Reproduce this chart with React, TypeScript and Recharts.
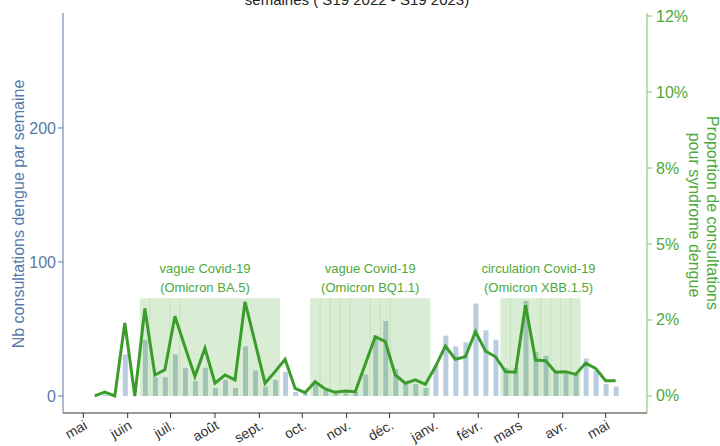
import React from "react";
import {
  ComposedChart, Bar, Line, XAxis, YAxis, ReferenceArea, ReferenceLine,
  ReferenceDot, Customized, Cell,
} from "recharts";

// weekly data, S19 2022 -> S19 2023 (53 weeks, week 0 starts 9 May 2022)
const nbConsult = [
  0, 1, 0, 31, 0, 42, 14, 14, 31, 21, 11, 21, 6, 12, 6, 37, 19, 7, 12, 18,
  3, 2, 9, 4, 2, 2, 3, 16, 45, 56, 20, 9, 9, 6, 23, 45, 37, 40, 69, 49,
  42, 21, 21, 71, 33, 30, 19, 18, 17, 28, 19, 9, 7,
];
const propDengue = [
  0, 0.13, 0, 2.4, 0, 2.88, 0.69, 0.86, 2.62, 1.62, 0.64, 1.57, 0.42, 0.69, 0.53, 3.1, 1.76, 0.42, 0.8, 1.21,
  0.25, 0.11, 0.47, 0.23, 0.12, 0.16, 0.14, 1.04, 1.95, 1.79, 0.69, 0.42, 0.53, 0.38, 0.96, 1.64, 1.21, 1.29, 2.12, 1.48,
  1.29, 0.8, 0.78, 2.99, 1.18, 1.16, 0.78, 0.8, 0.71, 1.08, 0.91, 0.5, 0.5,
];

// month ticks, in days since 1 May 2022
const monthDays = [0, 31, 61, 92, 123, 153, 184, 214, 245, 276, 304, 335, 365];
const monthLabels = ["mai", "juin", "juil.", "août", "sept.", "oct.", "nov.", "déc.", "janv.", "févr.", "mars", "avr.", "mai"];

const leftTicks = [0, 100, 200];
const rightTicks = [0, 2.5, 5, 7.5, 10, 12.5];
const rightTickLabels = ["0%", "2%", "5%", "8%", "10%", "12%"];

// covid periods (week indices)
const covidFirstWeek = [5, 22, 41];
const covidLastWeek = [18, 33, 48];
const covidLabelWeek = [11, 27.5, 44.3];
const covidLine1 = ["vague Covid-19", "vague Covid-19", "circulation Covid-19"];
const covidLine2 = ["(Omicron BA.5)", "(Omicron BQ1.1)", "(Omicron XBB.1.5)"];
const covidBandTop = 73;
const covidSeams = [5, 7, 8, 22, 23, 24, 25, 27, 28, 29, 41, 44, 45, 46, 47];

const weekToDay = (w: number) => 8 + 7 * w;
const inCovid = (w: number) => covidFirstWeek.some((f, i) => w >= f && w <= covidLastWeek[i]);

const data = nbConsult.map((v, i) => ({ day: weekToDay(i), nb: v, prop: propDengue[i] }));

const FONT = "'Liberation Sans', Arial, sans-serif";
const BLUE = "#5878a8";
const GREEN = "#3a9c2a";
const GREEN_TXT = "#4caa3a";
const GREEN_AXIS = "#78c464";
const BAR = "#b8cee0";
const BAR_SHADED = "#9fc4b6";

function MonthTick({ x, y, payload }: any) {
  const i = monthDays.indexOf(payload.value);
  const ax = x + 5;
  const ay = y + 8;
  return (
    <text x={ax} y={ay} textAnchor="end" fontSize={14} fill="#333" fontFamily={FONT}
      transform={`rotate(-30, ${ax}, ${ay})`}>
      {monthLabels[i]}
    </text>
  );
}

function RightTick({ x, y, payload }: any) {
  const i = rightTicks.indexOf(payload.value);
  return (
    <text x={x + 2} y={y} dy={5.5} textAnchor="start" fontSize={16} fill={GREEN_TXT} fontFamily={FONT}>
      {rightTickLabels[i]}
    </text>
  );
}

function covidLabel(i: number) {
  return (props: any) => {
    const vb = props.viewBox;
    const cx = vb.x + vb.width / 2;
    const top = vb.y + vb.height / 2;
    return (
      <g fontFamily={FONT} fontSize={13} fill={GREEN_TXT} textAnchor="middle">
        <text x={cx} y={top - 25.5}>{covidLine1[i]}</text>
        <text x={cx} y={top - 6.5}>{covidLine2[i]}</text>
      </g>
    );
  };
}

function Titles() {
  return (
    <g fontFamily={FONT}>
      <text x={357} y={5} textAnchor="middle" fontSize={15} fill="#222">
        semaines ( S19 2022 - S19 2023)
      </text>
      <text x={24} y={214} textAnchor="middle" fontSize={16} fill={BLUE}
        transform="rotate(-90, 24, 214)">
        Nb consultations dengue par semaine
      </text>
      <text x={707} y={213} textAnchor="middle" fontSize={16} fill={GREEN_TXT}
        transform="rotate(90, 707, 213)">
        Proportion de consultations
      </text>
      <text x={689} y={215} textAnchor="middle" fontSize={16} fill={GREEN_TXT}
        transform="rotate(90, 689, 215)">
        pour syndrome dengue
      </text>
    </g>
  );
}

export default function App() {
  return (
    <div style={{ position: "absolute", left: 0, top: 0, width: 720, height: 446, background: "#fff" }}>
      <ComposedChart width={720} height={446} data={data}
        margin={{ top: 13, right: 0, bottom: 0, left: 0 }}>
        <XAxis type="number" dataKey="day" domain={[-14.2, 393.9]} allowDataOverflow
          ticks={monthDays} interval={0} tick={<MonthTick />} height={33}
          stroke="#333" tickSize={5} />
        <YAxis yAxisId="left" domain={[-12.7, 285.8]} allowDataOverflow ticks={leftTicks}
          width={63} stroke={BLUE} tickSize={5}
          tick={{ fontSize: 16, fill: BLUE, fontFamily: FONT }} />
        <YAxis yAxisId="right" orientation="right" domain={[-0.56, 12.6]} allowDataOverflow
          ticks={rightTicks} width={73} stroke={GREEN_AXIS} tickSize={5} tick={<RightTick />} />

        {covidFirstWeek.map((w, i) => (
          <ReferenceArea key={"a" + i} yAxisId="left"
            x1={weekToDay(w - 0.5)} x2={weekToDay(covidLastWeek[i] + 0.5)}
            y1={0} y2={covidBandTop} fill="#5fb04a" fillOpacity={0.24} stroke="none" />
        ))}
        {covidSeams.map((w) => (
          <ReferenceLine key={"s" + w} yAxisId="left"
            segment={[{ x: weekToDay(w + 0.5), y: 0 }, { x: weekToDay(w + 0.5), y: covidBandTop }]}
            stroke="#c6e2bc" strokeWidth={1} />
        ))}

        <Bar yAxisId="left" dataKey="nb" fill={BAR} barSize={5} isAnimationActive={false}>
          {data.map((d, i) => (
            <Cell key={i} fill={inCovid(i) ? BAR_SHADED : BAR} />
          ))}
        </Bar>

        {covidLabelWeek.map((w, i) => (
          <ReferenceDot key={"l" + i} yAxisId="left" x={weekToDay(w)} y={covidBandTop} r={1}
            fill="none" stroke="none" label={{ content: covidLabel(i) }} />
        ))}

        <Line yAxisId="right" dataKey="prop" stroke={GREEN} strokeWidth={3} dot={false}
          type="linear" isAnimationActive={false} />
        <Customized component={Titles} />
      </ComposedChart>
    </div>
  );
}
